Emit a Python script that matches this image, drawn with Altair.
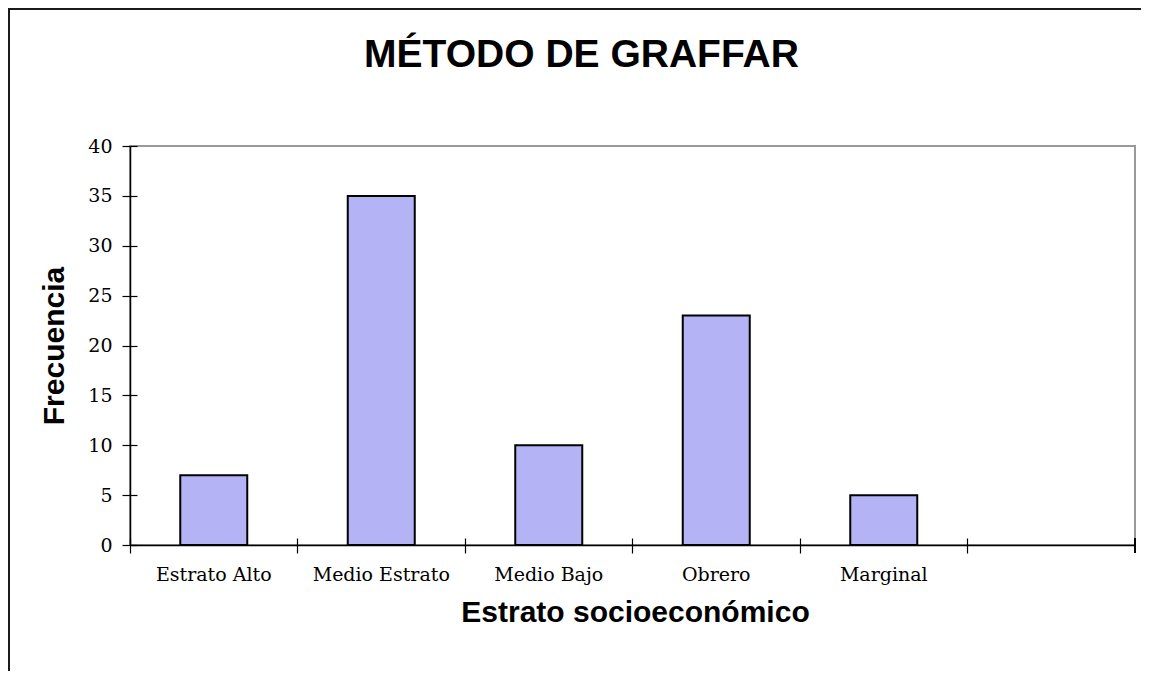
import altair as alt
import pandas as pd

categories = ["Estrato Alto", "Medio Estrato", "Medio Bajo", "Obrero", "Marginal", ""]
bar_categories = ["Estrato Alto", "Medio Estrato", "Medio Bajo", "Obrero", "Marginal"]
values = [7, 35, 10, 23, 5]
y_ticks = [0, 5, 10, 15, 20, 25, 30, 35, 40]

title_text = "MÉTODO DE GRAFFAR"
x_title = "Estrato socioeconómico"
y_title = "Frecuencia"

df = pd.DataFrame({"estrato": bar_categories, "frecuencia": values})

W, H = 1005, 399
PAD_L, PAD_T = 122, 138

x_scale = alt.Scale(domain=categories, paddingInner=0, paddingOuter=0)
y_scale = alt.Scale(domain=[0, 40], nice=False)

LABEL_FONT = "DejaVu Serif"
TITLE_FONT = "Liberation Sans"

base = alt.Chart(df)

bars = base.mark_bar(
    width=alt.RelativeBandSize(0.4),
    color="#b3b3f6",
    stroke="black",
    strokeWidth=2,
).encode(
    x=alt.X(
        "estrato:N",
        scale=x_scale,
        sort=categories,
        axis=alt.Axis(
            orient="bottom",
            title=x_title,
            titleFont=TITLE_FONT,
            titleFontSize=30,
            titleFontWeight="bold",
            titleColor="black",
            titleX=505,
            titleY=76,
            titleBaseline="alphabetic",
            titleAlign="center",
            labelFont=LABEL_FONT,
            labelFontSize=19,
            labelColor="black",
            labelAngle=0,
            labelPadding=12,
            labelOverlap=False,
            bandPosition=0,
            ticks=True,
            tickSize=8,
            tickColor="black",
            tickWidth=1.2,
            domain=True,
            domainColor="black",
            domainWidth=1.5,
            grid=False,
        ),
    ),
    y=alt.Y(
        "frecuencia:Q",
        scale=y_scale,
        axis=alt.Axis(
            orient="left",
            values=y_ticks,
            title=y_title,
            titleFont=TITLE_FONT,
            titleFontSize=30,
            titleFontWeight="bold",
            titleColor="black",
            titleAngle=270,
            titleX=-67,
            titleY=H / 2,
            titleBaseline="alphabetic",
            titleAlign="center",
            labelFont=LABEL_FONT,
            labelFontSize=19,
            labelColor="black",
            labelPadding=10,
            ticks=True,
            tickSize=8,
            tickColor="black",
            tickWidth=1.2,
            domain=True,
            domainColor="black",
            domainWidth=1.5,
            grid=False,
        ),
    ),
)

inner_ticks = base.mark_point(opacity=0).encode(
    x=alt.X(
        "estrato:N",
        scale=x_scale,
        sort=categories,
        axis=alt.Axis(
            orient="bottom",
            offset=-7,
            bandPosition=0,
            tickSize=7,
            tickColor="black",
            tickWidth=1.2,
            labels=False,
            domain=False,
            grid=False,
            title=None,
        ),
    ),
    y=alt.Y(
        "frecuencia:Q",
        scale=y_scale,
        axis=alt.Axis(
            orient="left",
            offset=-7,
            values=y_ticks,
            tickSize=7,
            tickColor="black",
            tickWidth=1.2,
            labels=False,
            domain=False,
            grid=False,
            title=None,
        ),
    ),
)

end_tick = base.mark_rule(color="black", strokeWidth=1.2).encode(
    x=alt.value(W),
    y=alt.value(H - 7),
    y2=alt.value(H + 8),
)

frame = base.mark_rect(fill=None, stroke="#1a1a1a", strokeWidth=2, clip=False).encode(
    x=alt.value(-PAD_L + 1),
    y=alt.value(-PAD_T + 1),
    x2=alt.value(3000),
    y2=alt.value(3000),
)

chart = (
    alt.layer(frame, bars, inner_ticks, end_tick)
    .resolve_axis(x="independent", y="independent")
    .properties(
        width=W,
        height=H,
        autosize=alt.AutoSizeParams(type="none"),
        padding={"left": PAD_L, "top": PAD_T, "right": 6, "bottom": 126},
        background="white",
        title=alt.TitleParams(
            text=title_text,
            font=TITLE_FONT,
            fontSize=39,
            fontWeight="bold",
            color="black",
            anchor="middle",
            frame="group",
            baseline="alphabetic",
            offset=-98,
            dx=-51,
        ),
    )
    .configure_view(stroke="#999999", strokeWidth=2)
)

chart.save("out.html", embed_options={"renderer": "svg", "actions": False})
